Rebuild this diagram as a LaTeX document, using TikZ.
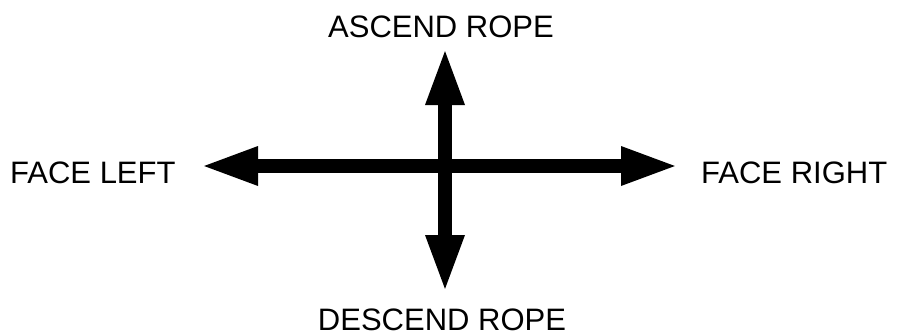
\documentclass[tikz,border=0pt]{standalone}
\usepackage{fontspec}
\setmainfont{Liberation Sans}
\usetikzlibrary{arrows.meta}
\tikzset{
  bigarrow/.style={line width=14pt, {Triangle[length=58pt,width=35pt]}-{Triangle[length=58pt,width=35pt]}},
  label/.style={inner sep=0pt, text depth=0pt, font=\fontsize{31}{36}\selectfont}
}
\begin{document}
\begin{tikzpicture}[x=1pt,y=-1pt]
    \useasboundingbox (0,0) rectangle (898,335);
    % Arrow ends
    \coordinate (left)  at (200,166);
    \coordinate (right) at (679,166);
    \coordinate (up)    at (445,47);
    \coordinate (down)  at (445,293);
    % Two double arrows
    \draw[bigarrow] (left) -- (right);
    \draw[bigarrow] (up) -- (down);
    % Labels
    \node[label, anchor=base]      (ascend)  at (441,37)  {ASCEND ROPE};
    \node[label, anchor=base west] (faceL)   at (10,183)  {FACE LEFT};
    \node[label, anchor=base west] (faceR)   at (701,183) {FACE RIGHT};
    \node[label, anchor=base]      (descend) at (442,330) {DESCEND ROPE};
\end{tikzpicture}
\end{document}
